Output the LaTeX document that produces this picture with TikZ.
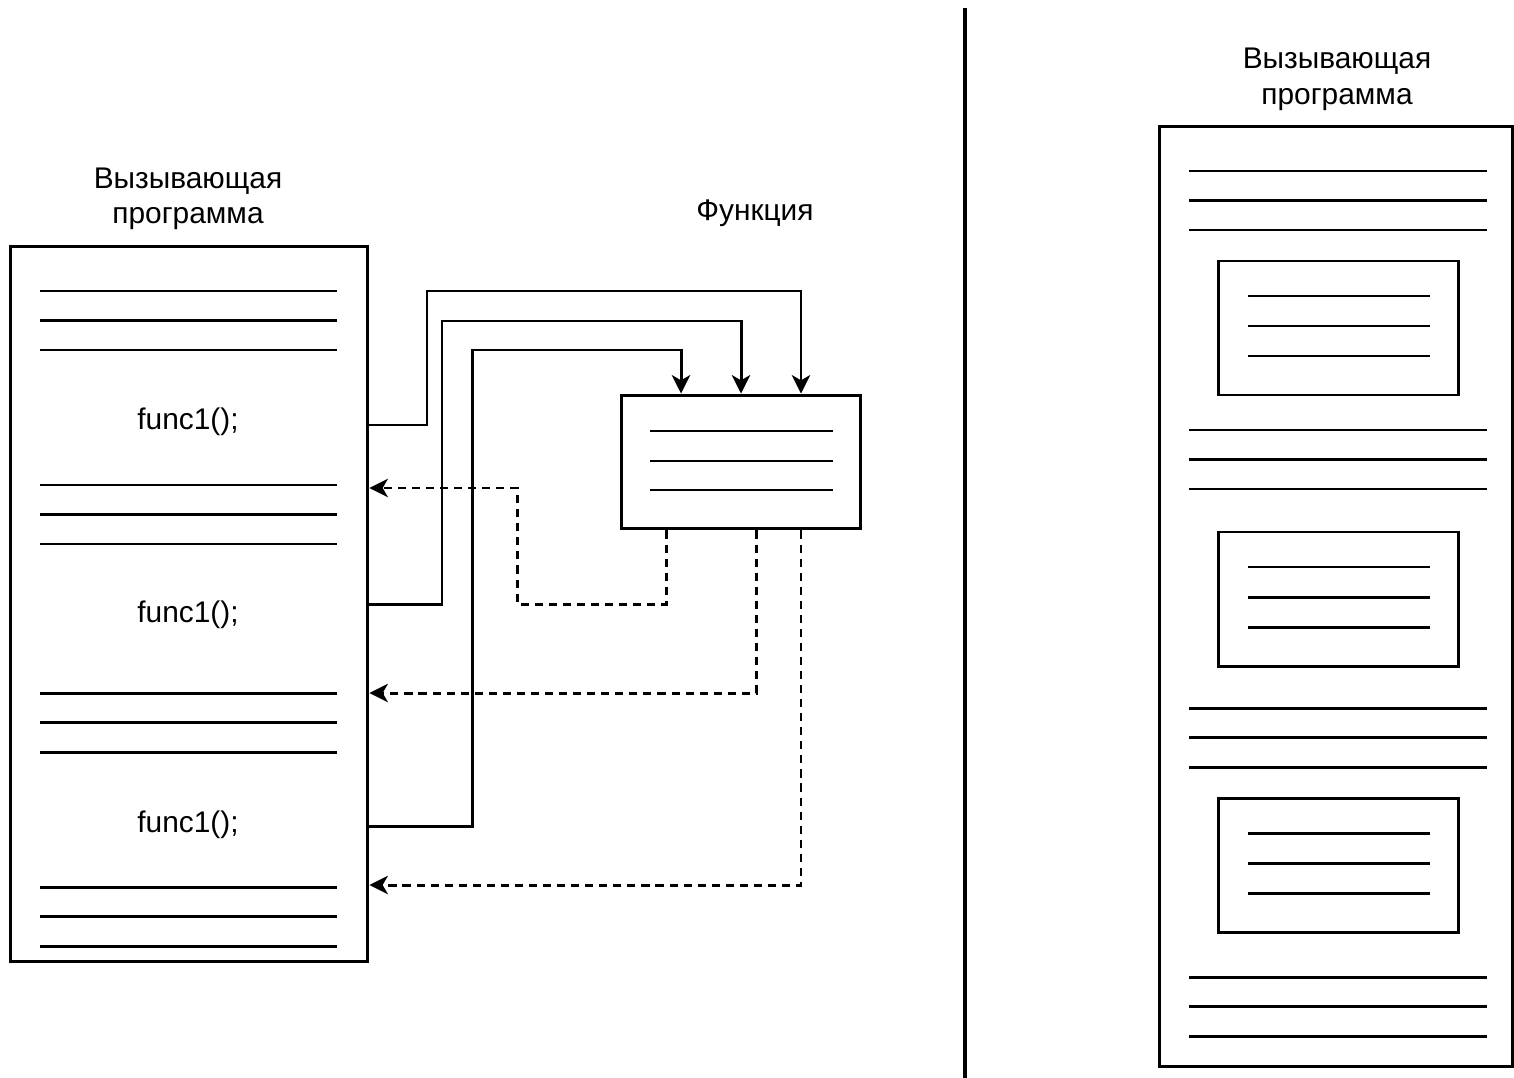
\documentclass[tikz,border=0pt]{standalone}
\usepackage{fontspec}
\setmainfont{Liberation Sans}
\usepackage{tikz}
\usetikzlibrary{arrows.meta}

\begin{document}
\begin{tikzpicture}[x=0.02cm, y=-0.02cm, line width=1.7pt,
    every node/.style={font=\fontsize{17}{20.2}\selectfont, align=center},
    box/.style={draw, rectangle, inner sep=0pt},
    call/.style={-{Stealth[length=10.5pt, width=10.5pt, inset=3pt]}},
    ret/.style={call, dash pattern=on 4.6pt off 3.4pt}]
                        \useasboundingbox (0,0) rectangle (1514,1078);
                        % left: caller and function
                        \node[box, minimum width=7.16cm, minimum height=14.32cm] (caller) at (189,604) {};
                        \node (callertitle) at (188,199) {Вызывающая\\программа};
                        \foreach \y in {291,485,693,887}
                        \foreach \d in {0,29.5,59}
                        \draw (40,\y+\d) -- (337,\y+\d);
                        \node (call1) at (188,422) {func1();};
                        \node (call2) at (188,615) {func1();};
                        \node (call3) at (188,825) {func1();};
                        \node[box, minimum width=4.8cm, minimum height=2.68cm] (func) at (741,462) {};
                        \node (functitle) at (755,213) {Функция};
                        \foreach \y in {431,461,490}
                        \draw (650,\y) -- (833,\y);
                        % calls
                        \draw[call] (caller.east |- 0,425) -| (427,291) -| ([xshift=1.2cm]func.north);
                        \draw[call] (caller.east |- 0,604) -| (442,321) -| (func.north);
                        \draw[call] (caller.east |- 0,826) -| (472,350) -| ([xshift=-1.2cm]func.north);
                        % returns
                        \draw[ret] ([xshift=-1.5cm]func.south) |- (517,604) |- (caller.east |- 0,488);
                        \draw[ret] ([xshift=0.3cm]func.south) |- (caller.east |- 0,693);
                        \draw[ret] ([xshift=1.2cm]func.south) |- (caller.east |- 0,885);
                        % divider
                        \draw[line width=2.6pt] (965,8) -- (965,1078);
                        % right: inlined program
                        \node[box, minimum width=7.08cm, minimum height=18.82cm] (inlined) at (1336,596.5) {};
                        \node (inlinedtitle) at (1337,79.5) {Вызывающая\\программа};
                        \foreach \y in {171,430,708,977}
                        \foreach \d in {0,29.5,59}
                        \draw (1189,\y+\d) -- (1487,\y+\d);
                        \foreach \y in {261,532,798} {
                        \draw (1218,\y) rectangle (1458,\y+134);
                        \foreach \d in {35,65,95}
                        \draw (1248,\y+\d) -- (1430,\y+\d);
                        }
                    \end{tikzpicture}
\end{document}
